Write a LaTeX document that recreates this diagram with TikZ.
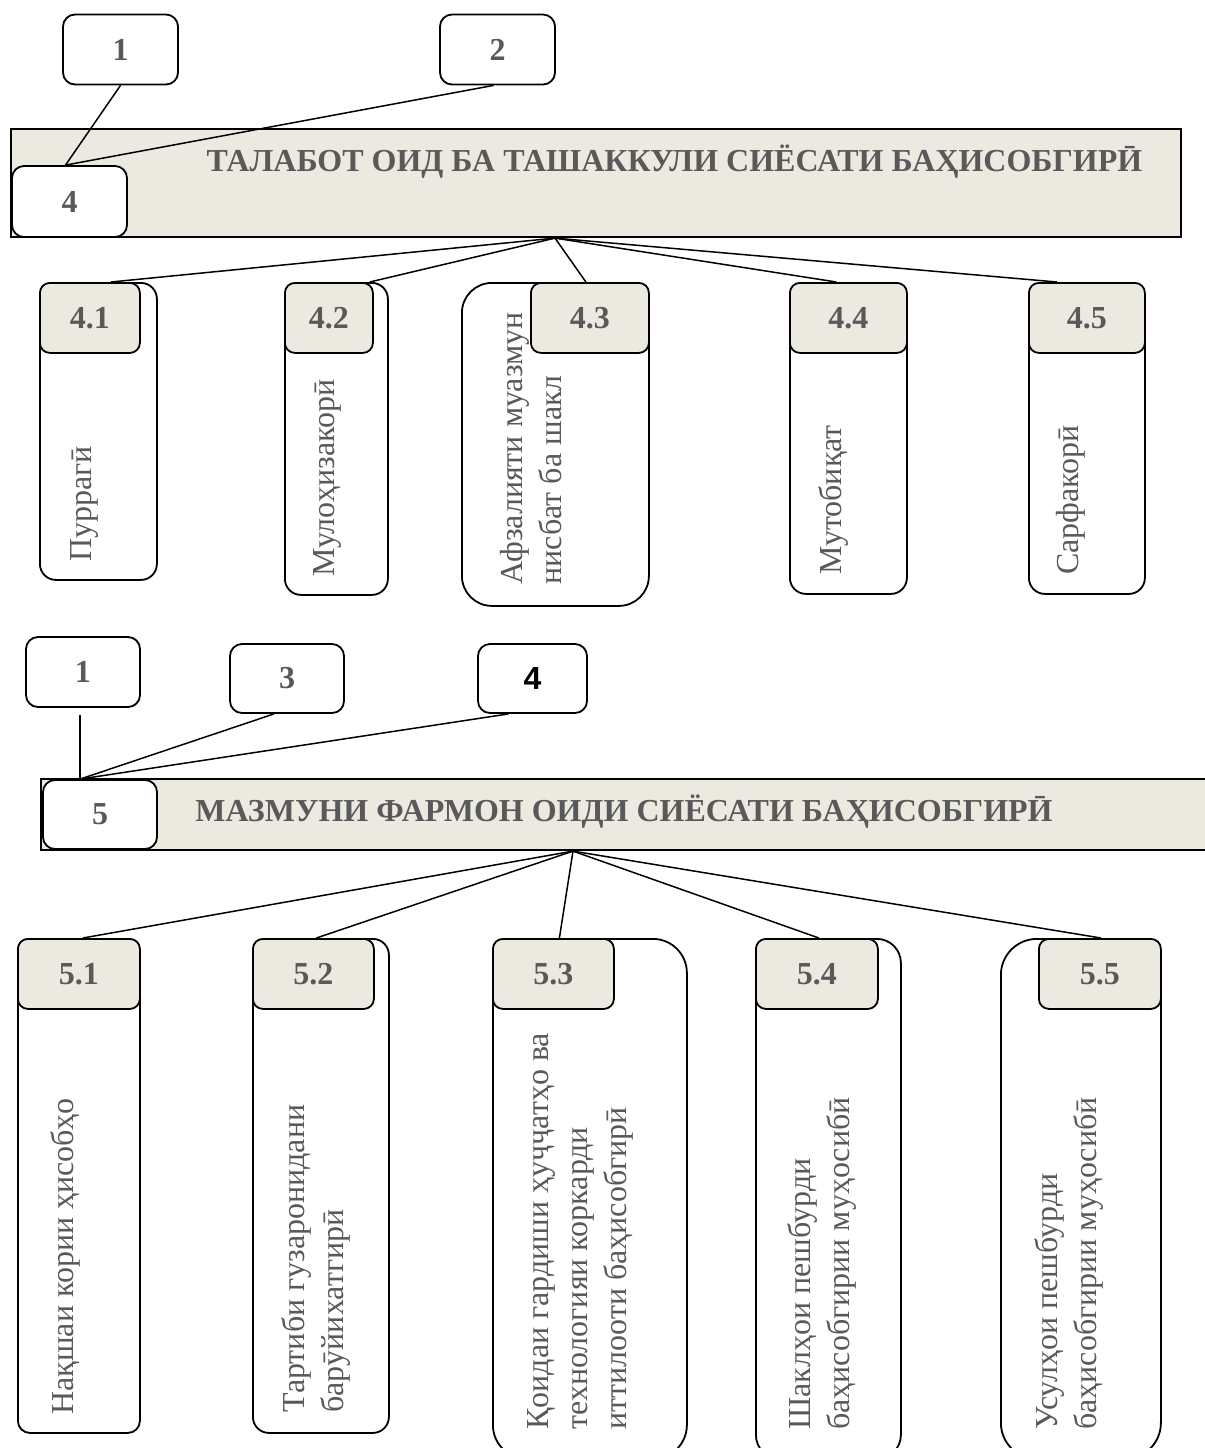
\documentclass[tikz,border=0pt]{standalone}
\usepackage{fontspec}
\setmainfont{Liberation Serif}
\newfontfamily\boxsans{Liberation Sans}
\begin{document}
\begin{tikzpicture}[x=0.5pt, y=-0.5pt,
    numbox/.style={draw, fill=white, rounded corners=6pt, line width=0.9pt, inner sep=0pt,
      minimum width=57.5pt, minimum height=35pt, text=txt, font=\bfseries\fontsize{16}{19}\selectfont},
    bar/.style={draw, fill=beige, line width=1.1pt, inner sep=0pt},
    tab/.style={draw, fill=beige, rounded corners=5pt, line width=0.9pt, inner sep=0pt, anchor=north west,
      minimum height=35pt, text=txt, font=\bfseries\fontsize{16}{19}\selectfont},
    col/.style={draw, fill=white, line width=0.9pt, inner sep=0pt, anchor=north west},
    vtext/.style={rotate=90, anchor=west, inner sep=0pt, align=left, text=txt,
      font=\fontsize{16}{19.5}\selectfont},
    title/.style={text=txt, inner sep=0pt, font=\bfseries\fontsize{16}{19}\selectfont},
    link/.style={line width=0.75pt}]
    \definecolor{txt}{RGB}{89,89,89}
    \definecolor{beige}{RGB}{236,234,224}
    \useasboundingbox (0,0) rectangle (1205,1448);

    \node[numbox] (one) at (120.5,49.5) {1};
    \node[numbox] (two) at (497.5,49.5) {2};
    \node[bar, minimum width=585pt, minimum height=54pt] (reqbar) at (596,183) {};
    \node[title] (reqtitle) at (674.5,162) {ТАЛАБОТ ОИД БА ТАШАККУЛИ СИЁСАТИ БАҲИСОБГИРӢ};
    \node[numbox, minimum height=35.5pt] (four) at (69.5,201.5) {4};
    \draw[link] (one.south) -- ([xshift=-2pt]four.north);
    \draw[link] ([xshift=-2pt]two.south) -- ([xshift=-2pt]four.north);

    \node[col, rounded corners=8pt, minimum width=58.5pt, minimum height=148.5pt] (b41) at (39,282) {};
    \node[tab, minimum width=50pt] (t41) at (39,282) {4.1};
    \node[col, rounded corners=8pt, minimum width=51.5pt, minimum height=156pt] (b42) at (284,282) {};
    \node[tab, minimum width=44pt] (t42) at (284,282) {4.2};
    \node[col, rounded corners=15pt, minimum width=93.5pt, minimum height=161.5pt] (b43) at (461,282) {};
    \node[tab, minimum width=59pt] (t43) at (530,282) {4.3};
    \node[col, rounded corners=8pt, minimum width=58.5pt, minimum height=155.5pt] (b44) at (789,282) {};
    \node[tab, minimum width=58.5pt] (t44) at (789,282) {4.4};
    \node[col, rounded corners=8pt, minimum width=58pt, minimum height=155.5pt] (b45) at (1028,282) {};
    \node[tab, minimum width=58pt] (t45) at (1028,282) {4.5};

    \coordinate (hubA) at ([xshift=-20.5pt]reqbar.south);
    \draw[link] (hubA) -- ([xshift=10.5pt]t41.north);
    \draw[link] (hubA) -- ([xshift=-2pt]t42.north east);
    \draw[link] (hubA) -- ([xshift=-2pt]t43.north);
    \draw[link] (hubA) -- ([xshift=-6pt]t44.north);
    \draw[link] (hubA) -- ([xshift=-15pt]t45.north);

    \node[vtext] (x41) at (84,562) {Пуррагӣ};
    \node[vtext] (x42) at (327,577) {Мулоҳизакорӣ};
    \node[vtext] (x43) at (531,585) {Афзалияти муазмун\\нисбат ба шакл};
    \node[vtext] (x44) at (833,575) {Мутобиқат};
    \node[vtext] (x45) at (1071,575) {Сарфакорӣ};

    \node[numbox, minimum width=57pt] (oneb) at (83,672) {1};
    \node[numbox, minimum width=57pt, minimum height=34.5pt] (three) at (287,678.5) {3};
    \node[numbox, minimum width=54.5pt, minimum height=34.5pt, text=black,
      font=\boxsans\bfseries\fontsize{16}{19}\selectfont] (fourb) at (532.5,678.5) {4};
    \node[bar, minimum width=587pt, minimum height=35.5pt] (ordbar) at (628,814.5) {};
    \node[title] (ordtitle) at (624,812) {МАЗМУНИ ФАРМОН ОИДИ СИЁСАТИ БАҲИСОБГИРӢ};
    \node[numbox, minimum width=57pt, minimum height=34.5pt] (five) at (100,814.5) {5};
    \draw[link, shorten <=3.5pt] ([xshift=-1.5pt]oneb.south) -- ([xshift=-10pt]five.north);
    \draw[link] ([xshift=-6.5pt]three.south) -- ([xshift=-10pt]five.north);
    \draw[link] ([xshift=-12pt]fourb.south) -- ([xshift=-10pt]five.north);

    \node[col, rounded corners=6pt, minimum width=61pt, minimum height=247pt] (b51) at (17,938) {};
    \node[tab, minimum width=61pt] (t51) at (17,938) {5.1};
    \node[col, rounded corners=8pt, minimum width=68pt, minimum height=247pt] (b52) at (252,938) {};
    \node[tab, minimum width=60.5pt] (t52) at (252,938) {5.2};
    \node[col, rounded corners=17pt, minimum width=97pt, minimum height=260pt] (b53) at (492,938) {};
    \node[tab, minimum width=60.5pt] (t53) at (492,938) {5.3};
    \node[col, rounded corners=12pt, minimum width=72.5pt, minimum height=260pt] (b54) at (755,938) {};
    \node[tab, minimum width=61pt] (t54) at (755,938) {5.4};
    \node[col, rounded corners=18pt, minimum width=80pt, minimum height=260pt] (b55) at (1000,938) {};
    \node[tab, minimum width=61pt] (t55) at (1038,938) {5.5};

    \coordinate (hubB) at ([xshift=-27.5pt]ordbar.south);
    \draw[link] (hubB) -- ([xshift=2pt]t51.north);
    \draw[link] (hubB) -- ([xshift=1.5pt]t52.north);
    \draw[link] (hubB) -- ([xshift=3pt]t53.north);
    \draw[link] (hubB) -- ([xshift=1pt]t54.north);
    \draw[link] (hubB) -- ([xshift=0.5pt]t55.north);

    \node[vtext] (x51) at (65,1415) {Нақшаи кории ҳисобҳо};
    \node[vtext] (x52) at (315.5,1413) {Тартиби гузаронидани\\барӯйихатгирӣ};
    \node[vtext] (x53) at (580,1430) {Қоидаи гардиши ҳуҷҷатҳо ва\\технологияи коркарди\\иттилооти баҳисобгирӣ};
    \node[vtext] (x54) at (821.5,1430) {Шаклҳои пешбурди\\баҳисобгирии муҳосибӣ};
    \node[vtext] (x55) at (1068.5,1430) {Усулҳои пешбурди\\баҳисобгирии муҳосибӣ};
  \end{tikzpicture}
\end{document}
